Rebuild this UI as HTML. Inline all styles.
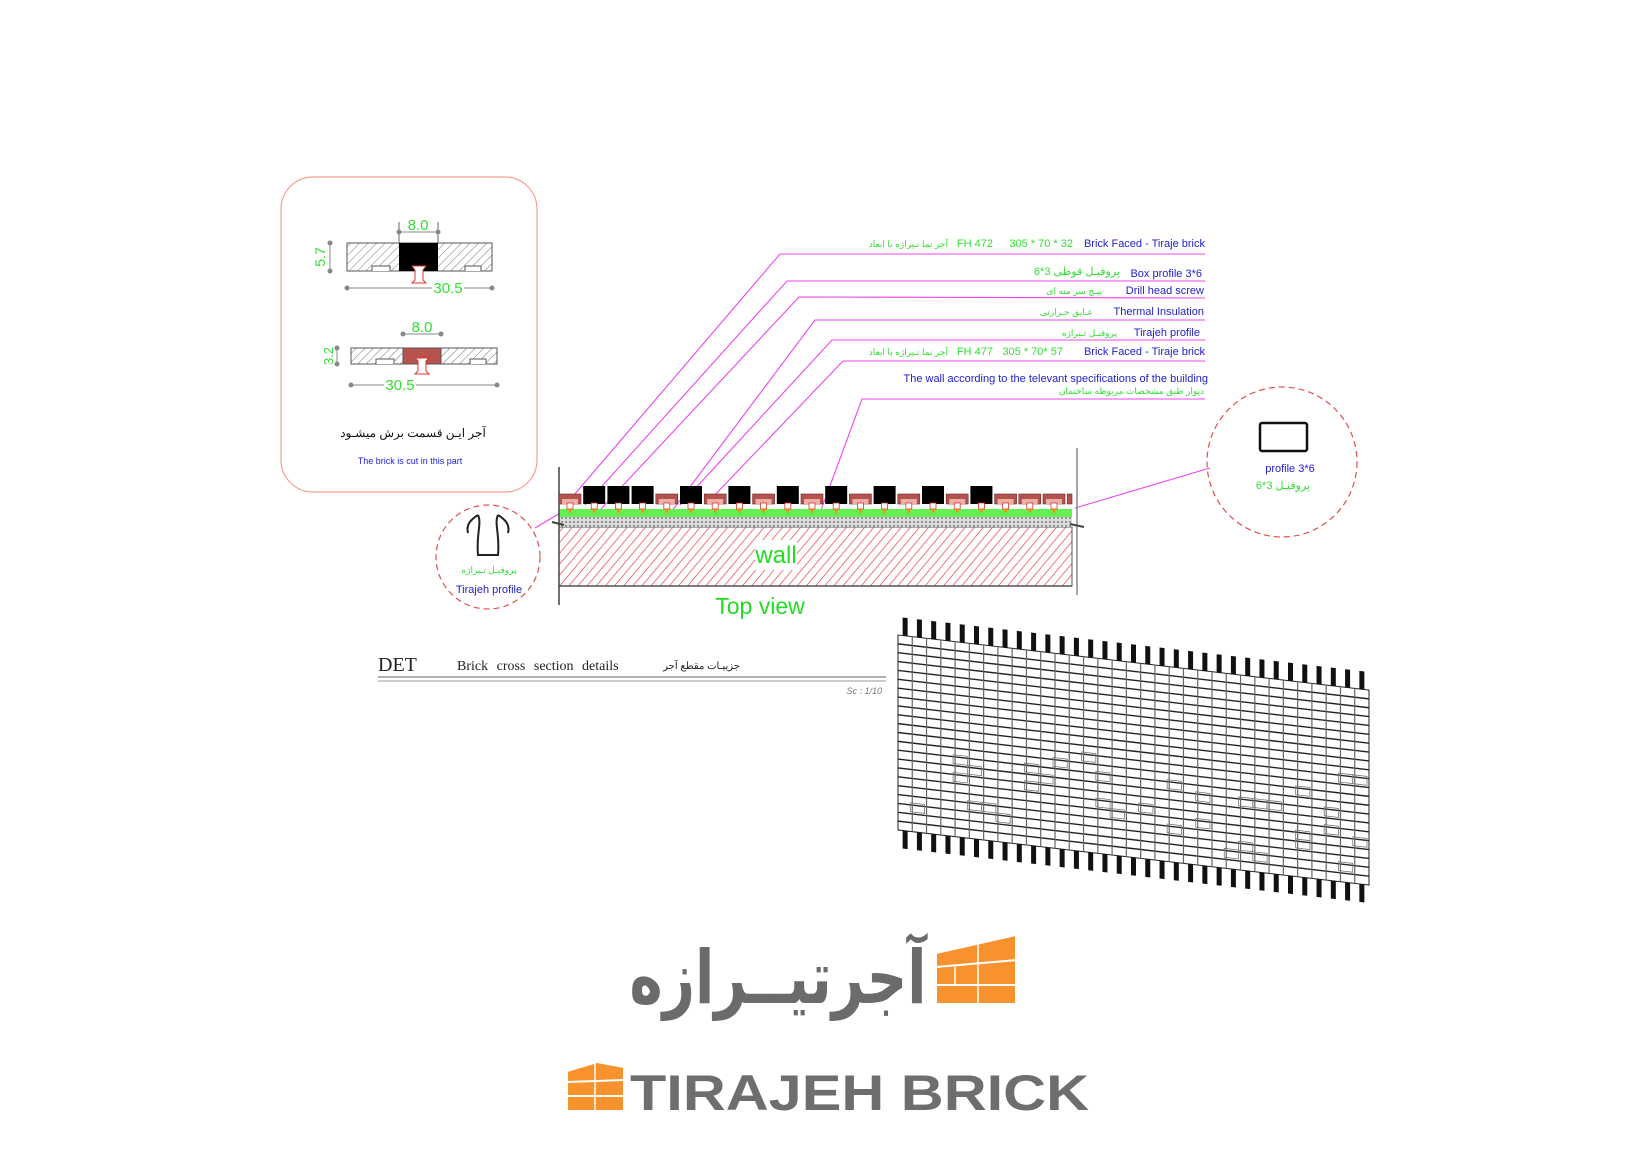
<!DOCTYPE html>
<html><head><meta charset="utf-8"><style>
html,body{margin:0;padding:0;background:#fff;}
svg{display:block;font-family:"Liberation Sans","Noto Sans CJK SC",sans-serif;}
</style></head><body>
<svg width="1650" height="1168" viewBox="0 0 1650 1168" xmlns="http://www.w3.org/2000/svg">
<defs>
<pattern id="hg" width="6" height="6" patternUnits="userSpaceOnUse" patternTransform="rotate(45)"><rect width="6" height="6" fill="#fff"/><line x1="0" y1="0" x2="0" y2="6" stroke="#777" stroke-width="1"/></pattern>
<pattern id="hr" width="7" height="7" patternUnits="userSpaceOnUse" patternTransform="rotate(40)"><rect width="7" height="7" fill="#fff"/><line x1="0" y1="0" x2="0" y2="7" stroke="#f03030" stroke-width="1.3"/></pattern>
<pattern id="dots" width="4" height="4" patternUnits="userSpaceOnUse"><rect width="4" height="4" fill="#ddd"/><circle cx="2" cy="2" r="1.1" fill="#888"/></pattern>
</defs>

<rect x="281" y="177" width="256" height="315" rx="32" fill="none" stroke="#f4a090" stroke-width="1.2"/>
<g>
<rect x="347" y="243" width="145" height="28" fill="url(#hg)" stroke="#555"/>
<path d="M372 271 v-5 h18 v5 M465 271 v-5 h16 v5" fill="#fff" stroke="#555"/>
<rect x="399" y="243" width="39" height="28" fill="#000"/>
<path d="M412 266 h14 l-3 4 v10 l3 3 h-14 l3 -3 v-10z" fill="#fff" stroke="#e03030"/>
<line x1="399" y1="232" x2="438" y2="232" stroke="#888"/><line x1="399" y1="222" x2="399" y2="243" stroke="#666"/><line x1="438" y1="222" x2="438" y2="243" stroke="#666"/>
<circle cx="399" cy="232" r="2.5" fill="#888"/><circle cx="438" cy="232" r="2.5" fill="#888"/>
<text x="418" y="230" font-size="15" fill="#33dd33" text-anchor="middle">8.0</text>
<line x1="347" y1="288" x2="492" y2="288" stroke="#888"/><circle cx="347" cy="288" r="2.5" fill="#888"/><circle cx="492" cy="288" r="2.5" fill="#888"/>
<rect x="432" y="280" width="32" height="14" fill="#fff"/><text x="448" y="293" font-size="15" fill="#33dd33" text-anchor="middle">30.5</text>
<line x1="330" y1="243" x2="330" y2="271" stroke="#888"/><circle cx="330" cy="243" r="2.5" fill="#888"/><circle cx="330" cy="271" r="2.5" fill="#888"/>
<text x="0" y="0" font-size="14" fill="#33dd33" transform="translate(325,257) rotate(-90)" text-anchor="middle">5.7</text>

<rect x="351" y="348" width="146" height="16" fill="url(#hg)" stroke="#555"/>
<path d="M376 364 v-5 h18 v5 M470 364 v-5 h16 v5" fill="#fff" stroke="#555"/>
<rect x="403" y="348" width="38" height="16" fill="#b8524c" stroke="#555"/>
<path d="M415 358 h14 l-3 3 v10 l3 3 h-14 l3 -3 v-10z" fill="#fff" stroke="#e03030"/>
<line x1="403" y1="334" x2="441" y2="334" stroke="#888"/><circle cx="403" cy="334" r="2.5" fill="#888"/><circle cx="441" cy="334" r="2.5" fill="#888"/>
<text x="422" y="332" font-size="15" fill="#33dd33" text-anchor="middle">8.0</text>
<line x1="351" y1="385" x2="497" y2="385" stroke="#888"/><circle cx="351" cy="385" r="2.5" fill="#888"/><circle cx="497" cy="385" r="2.5" fill="#888"/>
<rect x="384" y="377" width="32" height="14" fill="#fff"/><text x="400" y="390" font-size="15" fill="#33dd33" text-anchor="middle">30.5</text>
<line x1="337" y1="348" x2="337" y2="364" stroke="#888"/><circle cx="337" cy="348" r="2.5" fill="#888"/><circle cx="337" cy="364" r="2.5" fill="#888"/>
<text x="0" y="0" font-size="13" fill="#33dd33" transform="translate(333,356) rotate(-90)" text-anchor="middle">3.2</text>
<text x="413" y="437" font-size="12" fill="#111" text-anchor="middle">آجر ایـن قسمت برش میشـود</text>
<text x="410" y="464" font-size="9" fill="#2222dd" text-anchor="middle">The brick is cut in this part</text>
</g>

<g stroke="#ee44ee" stroke-width="1.1" fill="none">
<polyline points="574,495 780,254 1205,254"/>
<polyline points="585,505 787,281 1205,281"/>
<polyline points="600,510 799,297 1205,298"/>
<polyline points="660,527 815,320 1205,320"/>
<polyline points="680,505 832,340 1205,340"/>
<polyline points="710,500 843,361 1205,361"/>
<polyline points="810,540 862,399 1205,399"/>
<line x1="1075" y1="508" x2="1210" y2="468"/>
<line x1="535" y1="528" x2="562" y2="512"/>
</g>

<g font-size="11">
<text x="1205" y="247" fill="#2222cc" text-anchor="end">Brick Faced - Tiraje brick</text>
<text x="1073" y="247" fill="#33dd33" text-anchor="end">305 * 70 * 32</text>
<text x="993" y="247" fill="#33dd33" text-anchor="end">FH 472</text>
<text x="948" y="247" fill="#33dd33" text-anchor="end" font-size="9">آجر نما تـیراژه با ابعاد</text>
<text x="1202" y="277" fill="#2222cc" text-anchor="end">Box profile 3*6</text>
<text x="1120" y="275" fill="#33dd33" text-anchor="end">پروفیـل قوطی  3*6</text>
<text x="1204" y="294" fill="#2222cc" text-anchor="end">Drill head screw</text>
<text x="1102" y="294" fill="#33dd33" text-anchor="end" font-size="9">پیـچ سر مته ای</text>
<text x="1204" y="315" fill="#2222cc" text-anchor="end">Thermal Insulation</text>
<text x="1093" y="315" fill="#33dd33" text-anchor="end" font-size="9">عـایق حـرارتی</text>
<text x="1200" y="336" fill="#2222cc" text-anchor="end">Tirajeh profile</text>
<text x="1117" y="336" fill="#33dd33" text-anchor="end" font-size="9">پروفیـل تـیراژه</text>
<text x="1205" y="355" fill="#2222cc" text-anchor="end">Brick Faced - Tiraje brick</text>
<text x="1063" y="355" fill="#33dd33" text-anchor="end">305 * 70* 57</text>
<text x="993" y="355" fill="#33dd33" text-anchor="end">FH 477</text>
<text x="948" y="355" fill="#33dd33" text-anchor="end" font-size="9">آجر نما تـیراژه با ابعاد</text>
<text x="1208" y="382" fill="#2222cc" text-anchor="end">The wall according to the televant specifications of the building</text>
<text x="1204" y="394" fill="#33dd33" text-anchor="end" font-size="9">دیوار طبق مشخصات مربوطه ساختمان</text>
</g>

<rect x="559" y="527" width="513" height="59" fill="url(#hr)" stroke="#555"/>
<rect x="559" y="517" width="513" height="10" fill="url(#dots)"/>
<rect x="559" y="509" width="513" height="8" fill="#66ee55"/>
<line x1="559" y1="586" x2="1072" y2="586" stroke="#555" stroke-width="1.5"/>
<line x1="559" y1="467" x2="559" y2="605" stroke="#444" stroke-width="1.5"/>
<line x1="1077" y1="448" x2="1077" y2="595" stroke="#888" stroke-width="1.5"/>
<path d="M552 522 l12 3 M1070 524 l14 3" stroke="#444" stroke-width="2"/>
<g id="cells"></g>
<rect x="755" y="540" width="42" height="30" fill="#fff"/>
<text x="776" y="563" font-size="24" fill="#22dd22" text-anchor="middle">wall</text>
<text x="760" y="614" font-size="23" fill="#22dd22" text-anchor="middle">Top view</text>

<circle cx="488" cy="557" r="52" fill="none" stroke="#e05050" stroke-width="1.2" stroke-dasharray="6,4"/>
<path d="M478 515 c-8 5 -12 10 -10 18 M478 515 c4 8 -2 20 0 40 h20 c2 -20 -4 -32 0 -40 M498 515 c8 5 12 10 10 18" fill="none" stroke="#222" stroke-width="2"/>
<text x="489" y="573" font-size="9" fill="#33dd33" text-anchor="middle">پروفیـل تـیراژه</text>
<text x="489" y="593" font-size="11" fill="#2222cc" text-anchor="middle">Tirajeh profile</text>
<circle cx="1282" cy="462" r="75" fill="none" stroke="#e05050" stroke-width="1.2" stroke-dasharray="6,4"/>
<rect x="1260" y="423" width="47" height="28" rx="2" fill="none" stroke="#111" stroke-width="2.5"/>
<text x="1290" y="472" font-size="11" fill="#2222cc" text-anchor="middle">profile 3*6</text>
<text x="1283" y="489" font-size="11" fill="#33dd33" text-anchor="middle">6*3 پروفیـل</text>

<text x="378" y="671" font-size="20" fill="#222" style="font-family:'Liberation Serif',serif">DET</text>
<text x="457" y="670" font-size="14" fill="#222" word-spacing="5" style="font-family:'Liberation Serif',serif">Brick cross section details</text>
<text x="740" y="669" font-size="10" fill="#222" text-anchor="end">جزییـات مقطع آجر</text>
<line x1="378" y1="677" x2="886" y2="677" stroke="#999" stroke-width="1.5"/>
<line x1="378" y1="681" x2="886" y2="681" stroke="#999" stroke-width="1"/>
<text x="882" y="694" font-size="9" fill="#777" text-anchor="end" font-style="italic">Sc : 1/10</text>

<g id="grid" transform="matrix(1,0.1168,0,1,898,635)"></g>

<text x="778" y="1003" font-size="74" font-weight="bold" fill="#6b6b6b" text-anchor="middle" textLength="297" lengthAdjust="spacingAndGlyphs" style="font-family:'DejaVu Sans',sans-serif">آجرتیــرازه</text>
<g fill="#f7922e" stroke="#fff" stroke-width="2">
<path d="M936 953 l40 -9 l40 -9 v69 h-80z"/>
<line x1="936" y1="967" x2="1017" y2="960"/><line x1="936" y1="985" x2="1017" y2="985"/>
<line x1="978" y1="944" x2="978" y2="1004" stroke-width="1.5"/><line x1="955" y1="967" x2="955" y2="985" stroke-width="1.5"/>
<path d="M567 1071 l30 -9 l27 5 v44 h-57z"/>
<line x1="567" y1="1082" x2="624" y2="1080"/><line x1="567" y1="1096" x2="624" y2="1096"/>
<line x1="595" y1="1063" x2="595" y2="1111" stroke-width="1.5"/>
</g>
<text x="630" y="1110" font-size="50" font-weight="bold" fill="#6e6e6e" textLength="459" lengthAdjust="spacingAndGlyphs">TIRAJEH BRICK</text>
</svg>
<script>
(function(){
var ns="http://www.w3.org/2000/svg";
var c=document.getElementById("cells");
var black=[1,2,3,5,7,9,11,13,15,17];
function el(t,a,p){var e=document.createElementNS(ns,t);for(var k in a)e.setAttribute(k,a[k]);p.appendChild(e);return e;}
for(var i=0;i<22;i++){
 var x=559+24.2*i, w=Math.min(22,1072-x);
 if(black.indexOf(i)>=0){el("rect",{x:x,y:486,width:w,height:18,fill:"#000"},c);}
 else{el("rect",{x:x,y:494,width:w,height:10,fill:"#b5524c",stroke:"#6a2a28","stroke-width":0.6},c);
  el("rect",{x:x+3,y:499,width:Math.max(0,w-6),height:5,fill:"#e9b0a8"},c);}
 if(x+11<1072){el("rect",{x:x+8,y:503,width:6,height:6,fill:"#fff",stroke:"#e03030","stroke-width":0.8},c);
 el("path",{d:"M"+(x+9)+" 509 h4 l-2 5z",fill:"#ff8800"},c);}
}
var g=document.getElementById("grid");
var W=471,H=195,cols=33,rows=22,cw=W/cols,rh=H/rows;
el("rect",{x:0,y:0,width:W,height:H,fill:"#fff",stroke:"#222","stroke-width":1},g);
for(var k=0;k<cols;k++){
 el("rect",{x:k*cw+cw/2-2.5,y:-18,width:5,height:18,fill:"#111"},g);
 el("rect",{x:k*cw+cw/2-2.5,y:H,width:5,height:18,fill:"#111"},g);
}
for(var r=1;r<rows;r++)el("line",{x1:0,y1:r*rh,x2:W,y2:r*rh,stroke:"#222","stroke-width":1.4},g);
for(var k=1;k<cols;k++)el("line",{x1:k*cw,y1:0,x2:k*cw,y2:H,stroke:"#666","stroke-width":1.2},g);
var s=12345;function rnd(){s=(s*1103515245+12345)%2147483648;return s/2147483648;}
for(var k=0;k<cols;k++){
 for(var r=10;r<rows-1;r++){ if(rnd()<0.12){el("rect",{x:k*cw-2,y:r*rh-2,width:cw,height:rh,fill:"none",stroke:"#777","stroke-width":0.8},g);} }
}
})();
</script>
</body></html>
